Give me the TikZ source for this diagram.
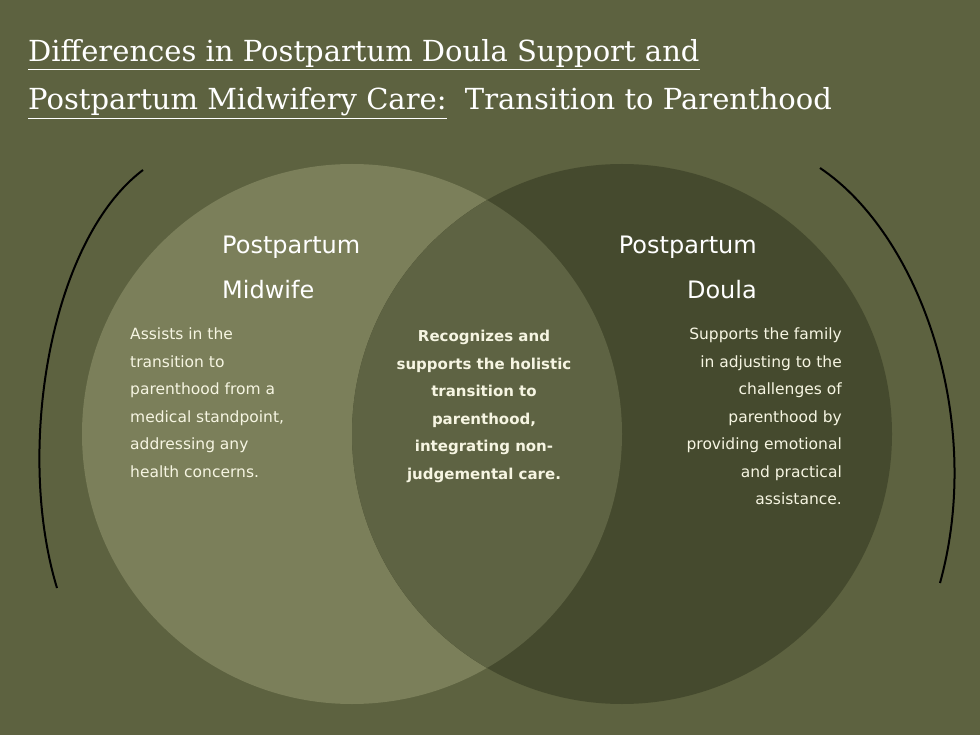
\documentclass[tikz,border=0pt]{standalone}
\usepackage{fontspec}
\setmainfont{DejaVu Serif}
\newfontfamily\bodyf{DejaVu Sans}
\definecolor{bg}{RGB}{93,98,64}
\definecolor{lc}{RGB}{123,127,90}
\definecolor{rc}{RGB}{69,74,46}
\definecolor{mc}{RGB}{94,99,67}
\begin{document}
\begin{tikzpicture}[x=1pt,y=-1pt,
  ttl/.style={anchor=base west,text=white,font=\fontsize{29}{29}\selectfont,inner sep=0},
  head/.style={text=white,font=\bodyf\fontsize{24}{45}\selectfont,inner sep=0},
  body/.style={text=white!92!olive,font=\bodyf\fontsize{15.5}{27.5}\selectfont,inner sep=0},
  arcl/.style={draw=black,line width=2pt}]
\fill[bg] (0,0) rectangle (980,735);
\useasboundingbox (0,0) rectangle (980,735);
\fill[lc] (352,434) circle (270);
\fill[rc] (622,434) circle (270);
\begin{scope}
\clip (352,434) circle (270);
\fill[mc] (622,434) circle (270);
\end{scope}
\coordinate (l1) at (143,170); \coordinate (l2) at (57,588);
\coordinate (r1) at (820,168); \coordinate (r2) at (940,583);
\draw[arcl] (l1) .. controls (50,240) and (15,450) .. (l2);
\draw[arcl] (r1) .. controls (920,235) and (985,420) .. (r2);
\node[ttl] (t1) at (28,62) {\underline{Differences in Postpartum Doula Support and}};
\node[ttl] (t2) at (28,110) {\underline{Postpartum Midwifery Care:}\ \ Transition to Parenthood};
\node[head,align=left,anchor=north west] (h1) at (222,236) {Postpartum\\Midwife};
\node[head,align=right,anchor=north east] (h2) at (757,236) {Postpartum\\Doula};
\node[body,align=left,anchor=north west] (b1) at (130,328) {Assists in the\\transition to\\parenthood from a\\medical standpoint,\\addressing any\\health concerns.};
\node[body,align=center,anchor=north,font=\bodyf\bfseries\fontsize{15}{27.5}\selectfont] (b2) at (484,330) {Recognizes and\\supports the holistic\\transition to\\parenthood,\\integrating non-\\judgemental care.};
\node[body,align=right,anchor=north east] (b3) at (842,328) {Supports the family\\in adjusting to the\\challenges of\\parenthood by\\providing emotional\\and practical\\assistance.};
\end{tikzpicture}
\end{document}
